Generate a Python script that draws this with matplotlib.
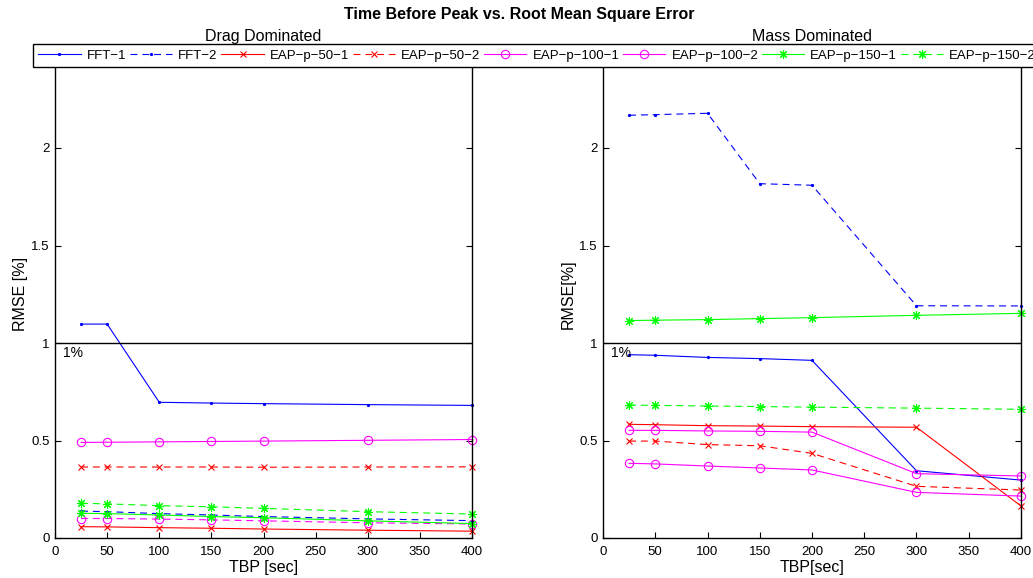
import numpy as np
import matplotlib
matplotlib.use('Agg')
import matplotlib.pyplot as plt

plt.rcParams['font.family'] = ['Liberation Sans', 'DejaVu Sans']
plt.rcParams['lines.scale_dashes'] = False

# TBP values [sec]
tbp = [25, 50, 100, 150, 200, 300, 400]

labels = ['FFT\u22121', 'FFT\u22122', 'EAP\u2212p\u221250\u22121', 'EAP\u2212p\u221250\u22122',
          'EAP\u2212p\u2212100\u22121', 'EAP\u2212p\u2212100\u22122',
          'EAP\u2212p\u2212150\u22121', 'EAP\u2212p\u2212150\u22122']

# Drag dominated RMSE [%]
drag_fft1 = [1.097, 1.097, 0.696, 0.692, 0.689, 0.684, 0.680]
drag_fft2 = [0.138, 0.135, 0.125, 0.118, 0.110, 0.098, 0.089]
drag_p50_1 = [0.058, 0.057, 0.053, 0.050, 0.046, 0.040, 0.035]
drag_p50_2 = [0.364, 0.364, 0.364, 0.364, 0.363, 0.364, 0.365]
drag_p100_1 = [0.490, 0.491, 0.493, 0.495, 0.497, 0.501, 0.505]
drag_p100_2 = [0.100, 0.100, 0.097, 0.093, 0.088, 0.078, 0.072]
drag_p150_1 = [0.127, 0.125, 0.118, 0.110, 0.104, 0.088, 0.074]
drag_p150_2 = [0.178, 0.175, 0.166, 0.160, 0.152, 0.135, 0.123]

# Mass dominated RMSE [%]
mass_fft1 = [0.940, 0.937, 0.926, 0.920, 0.911, 0.345, 0.297]
mass_fft2 = [2.168, 2.171, 2.178, 1.817, 1.809, 1.191, 1.190]
mass_p50_1 = [0.583, 0.581, 0.576, 0.574, 0.571, 0.568, 0.164]
mass_p50_2 = [0.497, 0.497, 0.479, 0.473, 0.434, 0.265, 0.246]
mass_p100_1 = [0.552, 0.552, 0.549, 0.547, 0.543, 0.330, 0.318]
mass_p100_2 = [0.383, 0.380, 0.369, 0.359, 0.349, 0.234, 0.215]
mass_p150_1 = [1.115, 1.117, 1.120, 1.125, 1.130, 1.142, 1.152]
mass_p150_2 = [0.682, 0.680, 0.677, 0.674, 0.671, 0.666, 0.660]

drag = [drag_fft1, drag_fft2, drag_p50_1, drag_p50_2, drag_p100_1, drag_p100_2, drag_p150_1, drag_p150_2]
mass = [mass_fft1, mass_fft2, mass_p50_1, mass_p50_2, mass_p100_1, mass_p100_2, mass_p150_1, mass_p150_2]

colors = ['#0000ff', '#0000ff', '#ff0000', '#ff0000', '#ff00ff', '#ff00ff', '#00ff00', '#00ff00']
markers = ['.', '.', 'x', 'x', 'o', 'o', (8, 2, 0), (8, 2, 0)]
msizes = [3, 3, 5, 5, 6, 6, 6.5, 6.5]
drag_styles = ['-', '--', '-', '--', '-', '--', '-', '--']
mass_styles = ['-', '--', '-', '--', '-', '-', '-', '--']

W, H = 1033, 578
fig = plt.figure(figsize=(W / 100, H / 100), dpi=100)
ax1 = fig.add_axes([55 / W, 40 / H, 417 / W, 487.5 / H])
ax2 = fig.add_axes([603 / W, 40 / H, 418 / W, 487.5 / H])


def draw(ax, data, styles, title, xlabel, ylabel):
    handles = []
    for i in range(len(data)):
        ls = styles[i]
        h, = ax.plot(tbp, data[i], color=colors[i], marker=markers[i], markersize=msizes[i],
                     markerfacecolor='none' if markers[i] == 'o' else colors[i],
                     markeredgewidth=0.8, linewidth=0.8, linestyle=ls,
                     dashes=(5, 3.5) if ls == '--' else (None, None), clip_on=False)
        handles.append(h)
    ax.axhline(1, color='black', linewidth=1)
    ax.text(8, 0.985, '1%', fontsize=10, va='top', ha='left')
    ax.set_xlim(0, 400)
    ax.set_ylim(0, 2.5)
    ax.set_xticks(np.arange(0, 401, 50))
    ax.set_yticks([0, 0.5, 1, 1.5, 2])
    ax.set_yticklabels(['0', '0.5', '1', '1.5', '2'])
    ax.tick_params(direction='in', length=4, width=0.8, labelsize=9.5, top=True, right=True)
    ax.tick_params(axis='x', pad=6)
    ax.tick_params(axis='y', pad=4)
    for s in ax.spines.values():
        s.set_linewidth(1)
    ax.set_title(title, fontsize=11.5, pad=7)
    ax.set_xlabel(xlabel, fontsize=11.5, labelpad=1)
    ax.set_ylabel(ylabel, fontsize=11.5, labelpad=2)
    return handles


draw(ax1, drag, drag_styles, 'Drag Dominated', 'TBP [sec]', 'RMSE [%]')
hs = draw(ax2, mass, mass_styles, 'Mass Dominated', 'TBP[sec]', 'RMSE[%]')

fig.text(519 / W, 1 - 15 / H, 'Time Before Peak vs. Root Mean Square Error',
         fontsize=11.5, fontweight='bold', ha='center', va='center')

leg = fig.legend(hs, labels, loc='upper left', bbox_to_anchor=(33 / W, 1 - 44 / H), ncol=8,
                 fontsize=9.5, frameon=True, fancybox=False, edgecolor='black', framealpha=1,
                 handlelength=3.2, handletextpad=0.45, columnspacing=0.3, borderpad=0.4,
                 borderaxespad=0)
leg.get_frame().set_linewidth(1)

fig.savefig('out.png', dpi=100)
